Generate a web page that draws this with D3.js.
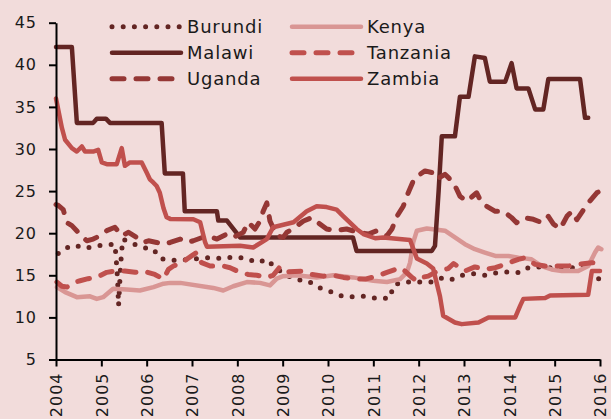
<!DOCTYPE html>
<html>
<head>
<meta charset="utf-8">
<script src="https://cdn.jsdelivr.net/npm/d3@7"></script>
<style>
  body { margin: 0; background: #f2dcdb; }
  svg { display: block; }
  text { font-family: "DejaVu Sans", sans-serif; fill: #1a1a1a; }
</style>
</head>
<body>
<svg></svg>
<script>
const width = 611;
const height = 419;

// [decimal year, inflation %]
const burundi = [[2004.05,17.6],[2004.2,18.2],[2004.4,18.6],[2004.64,18.2],[2004.88,18.5],[2005.3,18.7],[2005.33,16.8],[2005.36,14.3],[2005.38,11.4],[2005.4,13.5],[2005.43,16.5],[2005.47,19.3],[2005.89,18.3],[2006.15,18.1],[2006.29,17.0],[2006.53,16.8],[2006.77,16.8],[2007.4,17.1],[2007.67,17.0],[2007.93,17.2],[2008.21,17.0],[2008.43,16.5],[2008.66,16.9],[2008.83,15.9],[2009.09,15.0],[2009.31,14.5],[2009.57,14.3],[2009.76,13.6],[2010.01,13.2],[2010.19,12.7],[2010.4,12.4],[2010.6,12.5],[2010.85,12.5],[2011.11,12.2],[2011.37,12.3],[2011.44,13.8],[2011.63,14.2],[2011.85,14.2],[2012.07,14.2],[2012.29,14.2],[2012.54,14.75],[2012.73,14.5],[2012.95,15.0],[2013.21,15.2],[2013.46,15.0],[2013.72,15.3],[2013.98,15.4],[2014.24,15.3],[2014.42,15.9],[2014.64,16.0],[2014.88,15.9],[2015.14,16.0],[2015.36,15.9],[2015.63,16.0],[2015.76,15.5],null,[2015.97,14.6],[2016.0,14.5]];
const kenya = [[2004.02,13.6],[2004.2,13.0],[2004.46,12.4],[2004.75,12.5],[2004.9,12.2],[2005.04,12.4],[2005.26,13.4],[2005.56,13.3],[2005.85,13.2],[2006.15,13.6],[2006.37,14.0],[2006.52,14.1],[2006.74,14.1],[2007.47,13.5],[2007.69,13.2],[2007.91,13.7],[2008.21,14.2],[2008.5,14.1],[2008.72,13.8],[2008.87,14.6],[2009.01,14.9],[2009.3,15.0],[2009.75,14.75],[2010.12,15.0],[2010.55,14.75],[2011.0,14.35],[2011.3,14.2],[2011.59,14.55],[2011.74,15.35],[2011.81,16.5],[2011.88,18.9],[2011.96,20.3],[2012.18,20.55],[2012.58,20.3],[2012.8,19.5],[2013.02,18.7],[2013.24,18.1],[2013.46,17.7],[2013.69,17.3],[2013.98,17.3],[2014.2,17.1],[2014.49,16.9],[2014.71,16.1],[2014.93,15.7],[2015.16,15.5],[2015.52,15.5],[2015.74,16.1],[2015.89,17.7],[2015.96,18.3],[2016.03,18.1]];
const malawi = [[2004.0,42.1],[2004.35,42.1],[2004.46,33.1],[2004.82,33.1],[2004.9,33.6],[2005.1,33.6],[2005.19,33.1],[2006.33,33.1],[2006.4,27.1],[2006.8,27.1],[2006.84,22.6],[2007.55,22.6],[2007.58,21.5],[2007.77,21.5],[2008.06,19.5],[2010.55,19.5],[2010.63,17.9],[2012.29,17.9],[2012.36,18.5],[2012.44,25.0],[2012.51,31.5],[2012.8,31.5],[2012.91,36.2],[2013.1,36.2],[2013.24,41.0],[2013.46,40.8],[2013.57,38.0],[2013.91,38.0],[2014.05,40.2],[2014.16,37.2],[2014.42,37.2],[2014.57,34.7],[2014.75,34.7],[2014.86,38.3],[2015.56,38.3],[2015.67,33.7],[2015.74,33.7]];
const tanzania = [[2004.02,14.2],[2004.13,13.7],[2004.24,13.6],[2004.42,14.2],[2004.53,14.35],[2004.71,14.6],[2004.9,14.75],[2005.12,15.35],[2005.3,15.5],[2005.52,15.5],[2005.74,15.35],[2005.93,15.5],[2006.18,15.1],[2006.37,14.55],[2006.48,15.7],[2006.59,16.1],[2006.77,16.5],[2006.99,17.3],[2007.1,17.7],[2007.21,16.5],[2007.4,16.1],[2007.69,16.1],[2007.84,15.9],[2008.06,15.35],[2008.24,15.1],[2008.43,15.0],[2008.65,14.75],[2008.79,15.0],[2008.94,16.0],[2009.09,15.4],[2009.42,15.5],[2009.64,15.1],[2009.9,14.9],[2010.12,15.0],[2010.34,14.75],[2010.6,14.55],[2010.82,14.55],[2011.08,14.9],[2011.3,15.35],[2011.59,15.9],[2011.7,15.5],[2011.85,14.75],[2011.96,14.35],[2012.07,14.75],[2012.21,14.9],[2012.4,15.45],[2012.65,15.8],[2012.77,16.4],[2013.02,15.5],[2013.24,16.0],[2013.46,15.7],[2013.69,15.9],[2013.9,16.3],[2014.2,16.9],[2014.35,17.1],[2014.57,16.3],[2014.79,16.1],[2015.08,16.1],[2015.3,16.1],[2015.52,16.3],[2015.82,16.5],[2016.03,16.4]];
const uganda = [[2004.0,23.4],[2004.05,23.3],[2004.16,22.8],[2004.24,21.25],[2004.35,20.9],[2004.49,20.1],[2004.68,19.1],[2004.82,19.3],[2004.97,19.7],[2005.12,20.3],[2005.3,20.7],[2005.45,19.7],[2005.6,20.1],[2005.78,19.5],[2005.93,18.9],[2006.04,19.1],[2006.22,18.9],[2006.37,18.7],[2006.52,18.9],[2006.74,19.3],[2006.88,18.9],[2007.03,19.1],[2007.33,19.7],[2007.55,19.3],[2007.77,19.9],[2007.91,19.5],[2008.13,20.1],[2008.24,21.3],[2008.39,20.5],[2008.5,21.45],[2008.57,22.6],[2008.65,23.6],[2008.72,21.45],[2008.87,19.7],[2009.01,19.5],[2009.09,20.1],[2009.27,20.7],[2009.46,21.45],[2009.64,21.85],[2009.82,21.1],[2009.97,20.5],[2010.15,20.3],[2010.41,20.5],[2010.67,20.1],[2010.89,19.9],[2011.08,20.3],[2011.19,19.9],[2011.3,19.7],[2011.41,20.5],[2011.52,22.0],[2011.66,23.2],[2011.77,24.8],[2011.88,26.2],[2012.03,27.0],[2012.14,27.4],[2012.29,27.2],[2012.4,26.4],[2012.58,27.0],[2012.77,26.0],[2012.91,24.4],[2013.06,23.8],[2013.28,24.8],[2013.39,23.6],[2013.5,23.2],[2013.69,22.6],[2013.87,22.6],[2014.05,21.85],[2014.16,21.25],[2014.31,21.85],[2014.53,21.65],[2014.72,21.25],[2014.86,22.0],[2014.97,21.1],[2015.12,20.5],[2015.27,22.0],[2015.38,22.6],[2015.49,21.6],[2015.71,23.4],[2015.93,24.8],[2016.0,25.0]];
const zambia = [[2004.0,36.0],[2004.13,32.5],[2004.2,31.1],[2004.35,30.1],[2004.46,29.7],[2004.57,30.3],[2004.64,29.7],[2004.82,29.7],[2004.93,29.9],[2005.01,28.4],[2005.12,28.2],[2005.34,28.2],[2005.45,30.1],[2005.52,28.0],[2005.63,28.4],[2005.89,28.4],[2006.0,27.2],[2006.07,26.4],[2006.15,26.0],[2006.22,25.6],[2006.29,24.8],[2006.37,23.0],[2006.44,21.9],[2006.52,21.7],[2007.03,21.65],[2007.18,21.3],[2007.29,18.9],[2007.33,18.4],[2008.06,18.5],[2008.35,18.3],[2008.65,19.3],[2008.79,20.7],[2009.24,21.3],[2009.53,22.6],[2009.75,23.2],[2009.97,23.1],[2010.19,22.8],[2010.34,22.0],[2010.63,20.5],[2010.78,19.9],[2011.04,19.4],[2011.22,19.5],[2011.81,19.2],[2011.96,17.0],[2012.18,16.4],[2012.32,15.8],[2012.47,12.5],[2012.54,10.2],[2012.8,9.4],[2012.95,9.2],[2013.32,9.4],[2013.54,10.0],[2014.13,10.0],[2014.24,11.4],[2014.31,12.2],[2014.79,12.3],[2014.9,12.6],[2015.74,12.7],[2015.82,15.5],[2016.0,15.5]];

const countries = ["Burundi", "Kenya", "Malawi", "Tanzania", "Uganda", "Zambia"];
const seriesData = [burundi, kenya, malawi, tanzania, uganda, zambia];
const yearTicks = d3.range(2004, 2017);
const valueTicks = [5, 10, 15, 20, 25, 30, 35, 40, 45];

const styles = {
    Burundi:  { color: "#632523", dash: "0 11.2", width: 5 },
    Kenya:    { color: "#d99694", dash: null, width: 4.5 },
    Malawi:   { color: "#632523", dash: null, width: 4.5 },
    Tanzania: { color: "#c0504d", dash: "12 12", width: 5 },
    Uganda:   { color: "#953735", dash: "12 12", width: 5 },
    Zambia:   { color: "#c0504d", dash: null, width: 4.5 }
};

let svg = d3.select("svg")
    .attr("width", width)
    .attr("height", height);

let xScale = d3.scaleLinear()
    .domain([2004, 2016])
    .range([56, 600]);

let yScale = d3.scaleLinear()
    .domain([5, 45])
    .range([359.5, 22.7]);

let linePath = d3.line()
    .defined((d) => d !== null)
    .x((d) => xScale(d[0]))
    .y((d) => yScale(d[1]));

// series
svg.append("g")
    .selectAll("path")
    .data(countries)
    .enter()
    .append("path")
    .attr("d", (c, i) => linePath(seriesData[i]))
    .attr("fill", "none")
    .attr("stroke", (c) => styles[c].color)
    .attr("stroke-width", (c) => styles[c].width)
    .attr("stroke-dasharray", (c) => styles[c].dash)
    .attr("stroke-linecap", "round")
    .attr("stroke-linejoin", "round");

// axes
let xAxis = d3.axisBottom(xScale)
    .tickValues(yearTicks)
    .tickFormat(d3.format("d"))
    .tickSize(7)
    .tickSizeOuter(0);

let yAxis = d3.axisLeft(yScale)
    .tickValues(valueTicks)
    .tickSize(7)
    .tickSizeOuter(0)
    .tickPadding(12);

let gx = svg.append("g")
    .attr("transform", "translate(0," + yScale(5) + ")")
    .call(xAxis);

gx.selectAll("text")
    .attr("transform", "rotate(-90)")
    .attr("text-anchor", "end")
    .attr("x", -13)
    .attr("y", 0)
    .attr("dy", "0.36em")
    .style("font-size", "16px")
    .style("letter-spacing", "1px");

let gy = svg.append("g")
    .attr("transform", "translate(" + xScale(2004) + ",0)")
    .call(yAxis);

gy.selectAll("text")
    .style("font-size", "16px")
    .style("letter-spacing", "1px");

svg.selectAll(".domain, .tick line")
    .attr("stroke", "#000")
    .attr("stroke-width", 2);
svg.selectAll(".tick text").attr("fill", "#1a1a1a");

// legend, 2 columns x 3 rows
const legendCols = [110, 290];
const legendRows = [26.7, 52.7, 78.7];

let legend = svg.append("g")
    .selectAll("g")
    .data(countries)
    .enter()
    .append("g")
    .attr("transform", (c, i) => "translate(" + legendCols[i % 2] + "," + legendRows[Math.floor(i / 2)] + ")");

legend.append("line")
    .attr("x1", 2)
    .attr("x2", 71)
    .attr("stroke", (c) => styles[c].color)
    .attr("stroke-width", (c) => styles[c].width)
    .attr("stroke-dasharray", (c) => styles[c].dash)
    .attr("stroke-linecap", "round");

legend.append("text")
    .attr("x", 77)
    .attr("dy", "0.36em")
    .style("font-size", "18px")
    .style("letter-spacing", "0.8px")
    .text((c) => c);
</script>
</body>
</html>
